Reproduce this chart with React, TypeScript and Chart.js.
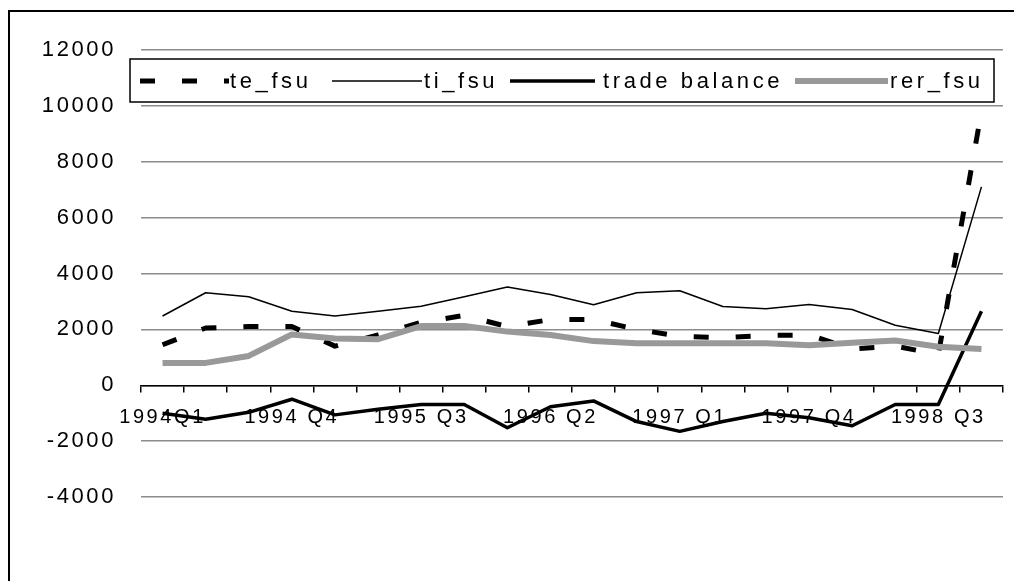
import React, { useEffect, useRef } from "react";
import { Chart, registerables } from "chart.js";

Chart.register(...registerables);

// Quarterly periods, 1994Q1 .. 1998 Q4
const quarters = [
  "1994Q1", "1994 Q2", "1994 Q3", "1994 Q4",
  "1995 Q1", "1995 Q2", "1995 Q3", "1995 Q4",
  "1996 Q1", "1996 Q2", "1996 Q3", "1996 Q4",
  "1997 Q1", "1997 Q2", "1997 Q3", "1997 Q4",
  "1998 Q1", "1998 Q2", "1998 Q3", "1998 Q4",
];

const teFsu = [1450, 2050, 2100, 2100, 1400, 1800, 2250, 2500, 2100, 2350, 2350, 2000, 1750, 1700, 1780, 1800, 1300, 1400, 1100, 9800];
const tiFsu = [2480, 3310, 3170, 2650, 2480, 2650, 2830, 3170, 3520, 3250, 2880, 3310, 3380, 2820, 2740, 2890, 2710, 2150, 1850, 7100];
const tradeBalance = [-1000, -1220, -970, -500, -1060, -860, -690, -690, -1520, -770, -560, -1300, -1650, -1300, -1000, -1160, -1450, -690, -690, 2650];
const rerFsu = [800, 800, 1050, 1820, 1670, 1650, 2120, 2120, 1920, 1800, 1580, 1500, 1500, 1500, 1500, 1430, 1520, 1600, 1380, 1300];

const yMin = -4000;
const yMax = 12000;
const yStep = 2000;
const labelEvery = 3;

const seriesNames = ["te_fsu", "ti_fsu", "trade balance", "rer_fsu"];

const FONT = '"Liberation Sans", Arial, sans-serif';
const AXIS_SPACING = "2.6px";

// White page and the chart frame (top and left edges)
const framePlugin = {
  id: "frame",
  beforeLayout(chart: any) {
    chart.ctx.letterSpacing = AXIS_SPACING;
  },
  beforeDraw(chart: any) {
    const ctx = chart.ctx;
    ctx.save();
    ctx.fillStyle = "#ffffff";
    ctx.fillRect(0, 0, chart.width, chart.height);
    ctx.strokeStyle = "#000000";
    ctx.lineWidth = 2;
    ctx.beginPath();
    ctx.moveTo(9, chart.height);
    ctx.lineTo(9, 11);
    ctx.lineTo(chart.width, 11);
    ctx.stroke();
    ctx.restore();
    ctx.letterSpacing = AXIS_SPACING;
  },
};

// Boxed single-row legend drawn over the top of the plot
const legendPlugin = {
  id: "boxLegend",
  afterDraw(chart: any) {
    const ctx = chart.ctx;
    ctx.save();
    ctx.fillStyle = "#ffffff";
    ctx.fillRect(130, 59, 864, 43);
    ctx.strokeStyle = "#000000";
    ctx.lineWidth = 1.5;
    ctx.strokeRect(130, 59, 864, 43);

    const items = [
      { x1: 140, x2: 229, tx: 230 },
      { x1: 332, x2: 422, tx: 424 },
      { x1: 510, x2: 595, tx: 603 },
      { x1: 795, x2: 888, tx: 890 },
    ];
    const lineY = 81;
    chart.data.datasets.forEach((ds: any, i: number) => {
      const it = items[i];
      ctx.save();
      ctx.strokeStyle = ds.borderColor;
      ctx.lineWidth = ds.borderWidth;
      ctx.lineCap = "butt";
      ctx.setLineDash(ds.borderDash || []);
      ctx.beginPath();
      ctx.moveTo(it.x1, lineY);
      ctx.lineTo(it.x2, lineY);
      ctx.stroke();
      ctx.restore();

      ctx.fillStyle = "#000000";
      ctx.font = `22px ${FONT}`;
      ctx.letterSpacing = "3.6px";
      ctx.textAlign = "left";
      ctx.textBaseline = "alphabetic";
      ctx.fillText(seriesNames[i], it.tx, 88);
    });
    ctx.restore();
  },
};

export default function App() {
  const canvasRef = useRef<HTMLCanvasElement | null>(null);

  useEffect(() => {
    const canvas = canvasRef.current;
    if (!canvas) return;
    const chart = new Chart(canvas, {
      type: "line",
      data: {
        labels: quarters,
        datasets: [
          {
            label: seriesNames[0],
            data: teFsu,
            borderColor: "#000000",
            borderWidth: 5,
            borderDash: [15, 27],
            order: 4,
          },
          {
            label: seriesNames[1],
            data: tiFsu,
            borderColor: "#000000",
            borderWidth: 1.5,
            order: 3,
          },
          {
            label: seriesNames[2],
            data: tradeBalance,
            borderColor: "#000000",
            borderWidth: 3.5,
            order: 2,
          },
          {
            label: seriesNames[3],
            data: rerFsu,
            borderColor: "#999999",
            borderWidth: 6,
            order: 1,
          },
        ] as any,
      },
      options: {
        responsive: false,
        animation: false,
        events: [],
        layout: { padding: { left: 0, right: 11, top: 50, bottom: 84 } },
        elements: {
          line: { tension: 0, fill: false, borderCapStyle: "butt", borderJoinStyle: "round" },
          point: { radius: 0, hoverRadius: 0 },
        },
        plugins: {
          legend: { display: false },
          tooltip: { enabled: false },
          title: { display: false },
        },
        scales: {
          x: {
            type: "category",
            offset: true,
            position: { y: 0 } as any,
            grid: {
              offset: true,
              drawOnChartArea: false,
              drawTicks: true,
              tickLength: 6,
              color: "#000000",
              lineWidth: 1.5,
            },
            border: { display: true, color: "#000000", width: 1.5 },
            ticks: {
              autoSkip: false,
              maxRotation: 0,
              minRotation: 0,
              padding: 14,
              color: "#000000",
              font: { family: FONT, size: 20 },
              callback: (_v: any, i: number) => (i % labelEvery === 0 ? quarters[i] : ""),
            },
          },
          y: {
            min: yMin,
            max: yMax,
            grid: { color: "#8c8c8c", lineWidth: 1.5, drawTicks: false },
            border: { display: false },
            ticks: {
              stepSize: yStep,
              padding: 25,
              color: "#000000",
              font: { family: FONT, size: 22 },
              callback: (v: any) => String(v),
            },
            afterFit: (scale: any) => {
              scale.width = 141;
            },
          },
        },
      },
      plugins: [framePlugin, legendPlugin],
    });
    return () => chart.destroy();
  }, []);

  return (
    <div
      style={{
        position: "absolute",
        left: 0,
        top: 0,
        width: 1014,
        height: 581,
        overflow: "hidden",
        background: "#ffffff",
      }}
    >
      <canvas ref={canvasRef} width={1014} height={581} style={{ display: "block" }} />
    </div>
  );
}
